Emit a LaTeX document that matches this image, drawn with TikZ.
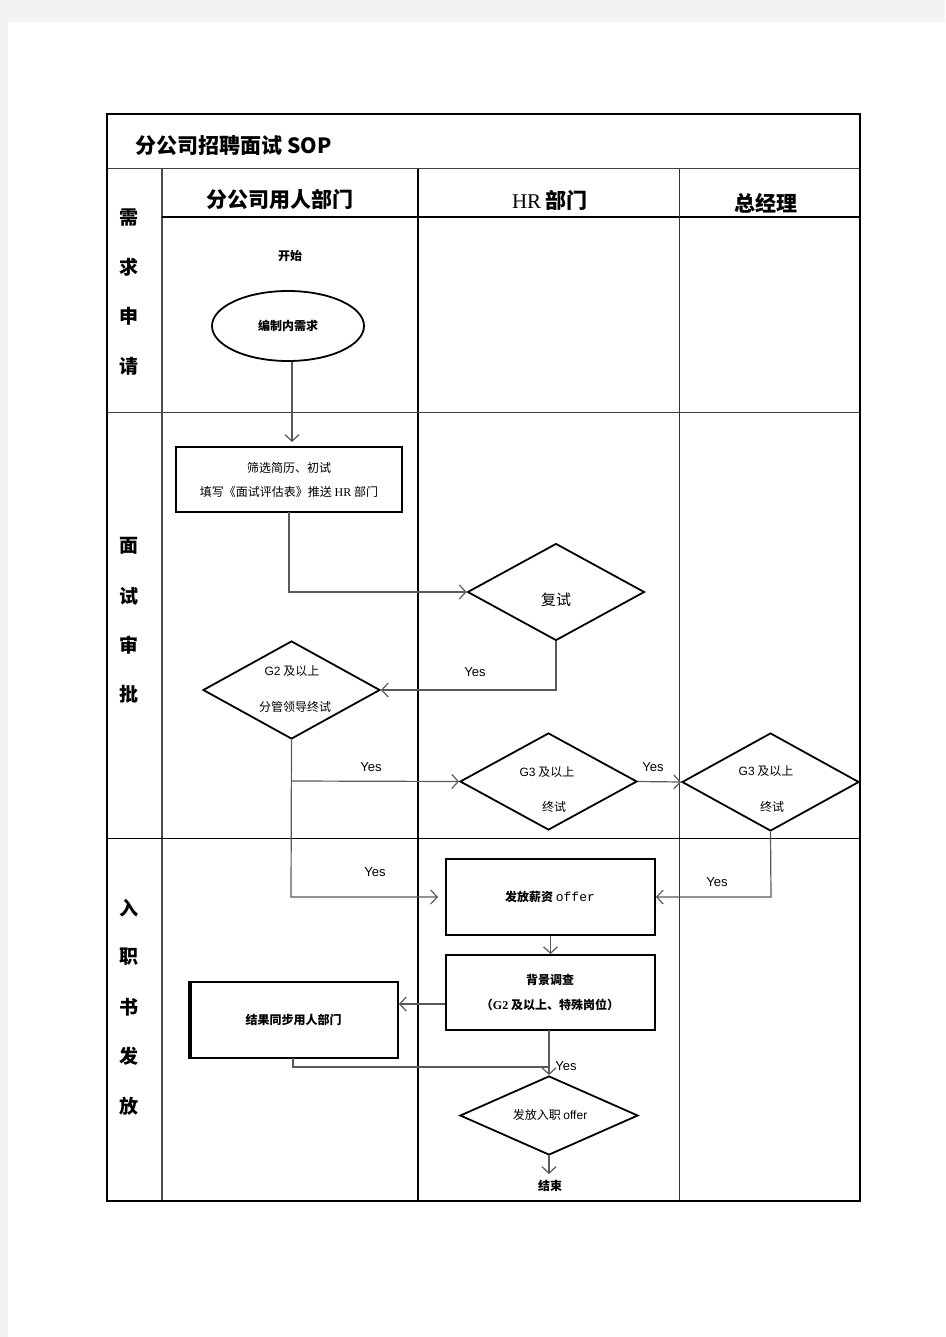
\documentclass[tikz,border=0pt]{standalone}
\usepackage{fontspec}
\setmainfont{Noto Sans CJK SC}
\newfontfamily\lat{Liberation Sans}
\newfontfamily\serifl{Liberation Serif}
\newfontfamily\monol{Liberation Mono}
\usetikzlibrary{arrows.meta,shapes.geometric}
\begin{document}
\begin{tikzpicture}[x=1pt,y=-1pt,
  frame/.style={line width=2pt,black},
  grid/.style={line width=1pt,black!75},
  conn/.style={line width=1.2pt,black!65,-{Straight Barb[length=6.5pt,width=14pt,line width=1.2pt]}},
  plain/.style={line width=1.2pt,black!65},
  boxs/.style={draw=black,line width=1.8pt,fill=white,inner sep=0pt},
  dia/.style={draw=black,line width=1.8pt,diamond,fill=white,inner sep=0pt},
  lab/.style={font=\lat\fontsize{13}{15}\selectfont},
  txt/.style={font=\fontsize{12}{14}\selectfont,align=center},
  btxt/.style={font=\bfseries\fontsize{12}{14}\selectfont,align=center},
  lane/.style={font=\bfseries\fontsize{19}{21}\selectfont},
  head/.style={font=\bfseries\fontsize{21}{24}\selectfont}]
\useasboundingbox (0,0) rectangle (945,1337);
\fill[black!5] (0,0) rectangle (945,1337);
\fill[white] (8,22) rectangle (945,1337);
% grid
\draw[grid] (107,169) -- (860,169);
\draw[line width=1.2pt,black!70] (162,169) -- (162,1201);
\draw[line width=1.8pt] (162,217) -- (860,217);
\draw[line width=1.8pt] (418,169) -- (418,1201);
\draw[line width=1pt,black!80] (679,169) -- (679,1201);
\draw[grid] (107,412) -- (860,412);
\draw[line width=1pt] (107,838) -- (860,838);
\draw[frame] (107,114) rectangle (860,1201);
% titles
\node[anchor=west,font=\bfseries\fontsize{21}{24}\selectfont] (title) at (132,146) {分公司招聘面试 SOP};
\node[head] (h1) at (280,199) {分公司用人部门};
\node[head] (h2) at (550,200) {{\serifl\mdseries HR} 部门};
\node[head] (h3) at (766,203) {总经理};
\foreach \t/\y [count=\i] in {需/218,求/267,申/316,请/366,面/546,试/596,审/645,批/694,入/908,职/957,书/1007,发/1056,放/1106}
  \node[lane] (l\i) at (129,\y) {\t};
% nodes
\node[btxt] (start) at (290,256) {开始};
\node[draw=black,line width=1.8pt,ellipse,minimum width=152pt,minimum height=70pt,fill=white,btxt] (need) at (288,326) {编制内需求};
\node[boxs,minimum width=226pt,minimum height=65pt,txt,font=\fontsize{12}{24}\selectfont] (screen) at (289,479.5) {筛选简历、初试\\填写《面试评估表》推送 {\serifl HR} 部门};
\node[dia,minimum width=177pt,minimum height=97pt] (re) at (556,592) {};
\node[font=\fontsize{15}{17}\selectfont] (ret) at (556,600) {复试};
\node[dia,minimum width=177pt,minimum height=98pt] (g2) at (291.5,690) {};
\node[txt] (g2a) at (292,671) {{\lat G2} 及以上};
\node[txt] (g2b) at (295,707) {分管领导终试};
\node[dia,minimum width=177pt,minimum height=97pt] (g3h) at (548.5,781.5) {};
\node[txt] (g3ha) at (547,772) {{\lat G3} 及以上};
\node[txt] (g3hb) at (554,807) {终试};
\node[dia,minimum width=177pt,minimum height=98pt] (g3m) at (770.5,782) {};
\node[txt] (g3ma) at (766,771) {{\lat G3} 及以上};
\node[txt] (g3mb) at (772,807) {终试};
\node[boxs,minimum width=209pt,minimum height=76pt] (offer) at (550.5,897) {};
\node[btxt] (offert) at (550,897) {发放薪资 {\monol\mdseries\fontsize{13}{14}\selectfont offer}};
\node[boxs,minimum width=209pt,minimum height=75pt] (bg) at (550.5,992.5) {};
\node[btxt,font=\bfseries\fontsize{12}{25}\selectfont] (bgt) at (550,992.5) {背景调查\\（{\serifl G2} 及以上、特殊岗位）};
\node[boxs,minimum width=209pt,minimum height=76pt,btxt] (sync) at (293.5,1020) {结果同步用人部门};
\draw[line width=3pt] (190,982) -- (190,1058);
\node[dia,minimum width=178pt,minimum height=79pt] (fin) at (549,1115.5) {};
\node[txt] (fint) at (550,1115) {发放入职 {\lat offer}};
\node[btxt] (end) at (550,1186) {结束};
% connectors
\draw[conn] (need.south) ++(4,0) coordinate (n1) -- (292,442) coordinate (n2);
\draw[conn] (289,512) -- (289,592) -- (re.west);
\draw[conn] (re.south) -- (556,690) -- (g2.east);
\node[lab] (y1) at (475,672) {Yes};
\draw[conn] (g2.south) -- (291,897) -- (438,897);
\node[lab] (y2) at (375,872) {Yes};
\draw[conn] (291,781) -- (g3h.west);
\node[lab] (y3) at (371,767) {Yes};
\draw[conn] (g3h.east) -- (g3m.west);
\node[lab] (y4) at (653,767) {Yes};
\draw[conn] (g3m.south) -- (771,897) -- (offer.east);
\node[lab] (y5) at (717,882) {Yes};
\draw[conn] (offer.south) -- (bg.north);
\draw[conn] (bg.west |- 0,1004) -- (sync.east |- 0,1004);
\draw[conn] (549,1030) -- (fin.north);
\node[lab] (y6) at (566,1066) {Yes};
\draw[plain] (293,1058) -- (293,1067) -- (549,1067);
\draw[conn] (fin.south) -- (549,1174);
\end{tikzpicture}
\end{document}
